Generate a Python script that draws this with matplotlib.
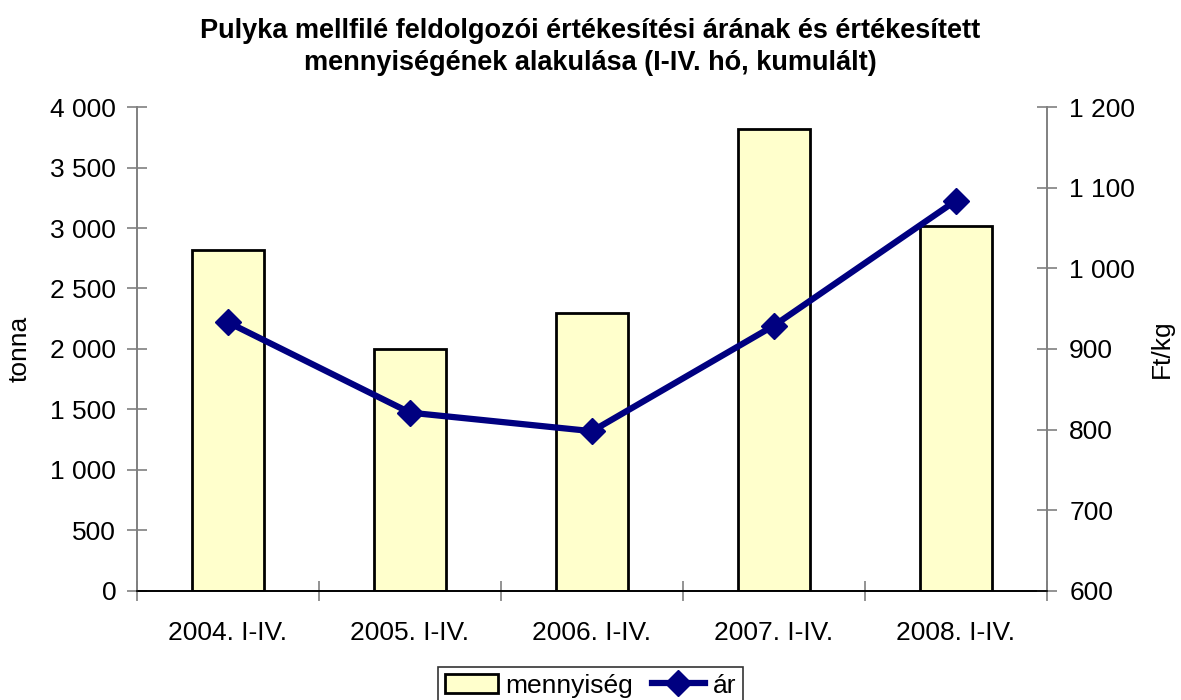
import numpy as np
import matplotlib.pyplot as plt
from matplotlib.ticker import FuncFormatter

plt.rcParams['font.family'] = ['Liberation Sans', 'DejaVu Sans']

# Adatok
idoszak = ['2004. I-IV.', '2005. I-IV.', '2006. I-IV.', '2007. I-IV.', '2008. I-IV.']
mennyiseg = [2820, 2000, 2300, 3820, 3020]   # tonna
ar = [933, 821, 798, 929, 1084]              # Ft/kg

cim = ('Pulyka mellfilé feldolgozói értékesítési árának és értékesített\n'
       'mennyiségének alakulása (I-IV. hó, kumulált)')


def ezres(v, pos):
    return f'{int(v):,}'.replace(',', ' ')


fs = 19

fig = plt.figure(figsize=(11.81, 7), dpi=100)
ax = fig.add_axes([0.116, 0.156, 0.7705, 0.691])
ax2 = ax.twinx()

x = np.arange(len(idoszak))
b = ax.bar(x, mennyiseg, width=0.4, color='#FFFFCC', edgecolor='black',
           linewidth=2, label='mennyiség', zorder=2)
l, = ax2.plot(x, ar, color='#000080', linewidth=4.5, marker='D',
              markersize=13, label='ár', zorder=3)

ax.set_xlim(-0.5, len(idoszak) - 0.5)
ax.set_ylim(0, 4000)
ax.set_yticks(np.arange(0, 4001, 500))
ax.yaxis.set_major_formatter(FuncFormatter(ezres))
ax2.set_ylim(600, 1200)
ax2.set_yticks(np.arange(600, 1201, 100))
ax2.yaxis.set_major_formatter(FuncFormatter(ezres))

# kategória-határokon lévő osztások
ax.set_xticks(np.arange(-0.5, len(idoszak), 1.0))
ax.set_xticklabels([])
ax.set_xticks(x, minor=True)
ax.set_xticklabels(idoszak, minor=True)
ax.tick_params(axis='x', which='minor', length=0, pad=22, labelsize=fs)
ax.tick_params(axis='x', which='major', direction='inout', length=14,
               color='#808080', width=1.2)

ax.tick_params(axis='y', direction='inout', length=14, color='#808080',
               width=1.2, labelsize=fs, pad=8)
ax2.tick_params(axis='y', direction='inout', length=14, color='#808080',
                width=1.2, labelsize=fs, pad=9)

for a in (ax, ax2):
    a.spines['top'].set_visible(False)
    a.spines['left'].set_color('#808080')
    a.spines['right'].set_color('#808080')
    a.spines['left'].set_linewidth(1.2)
    a.spines['right'].set_linewidth(1.2)
    a.spines['bottom'].set_color('black')
    a.spines['bottom'].set_linewidth(1.2)

ax.set_ylabel('tonna', fontsize=fs)
ax.yaxis.set_label_coords(-0.1154, 0.5)
ax2.set_ylabel('Ft/kg', fontsize=fs)
ax2.yaxis.set_label_coords(1.113, 0.5)

fig.suptitle(cim, fontsize=19.5, fontweight='bold', y=0.975, linespacing=1.3)

leg = fig.legend([b, l], ['mennyiség', 'ár'], loc='lower center',
                 bbox_to_anchor=(0.5, -0.025), ncol=2, fontsize=fs,
                 frameon=True, fancybox=False, edgecolor='black',
                 handlelength=2.0, handletextpad=0.3, columnspacing=0.7,
                 borderpad=0.25)
leg.get_frame().set_linewidth(1.2)

fig.savefig('out.png', dpi=100)
